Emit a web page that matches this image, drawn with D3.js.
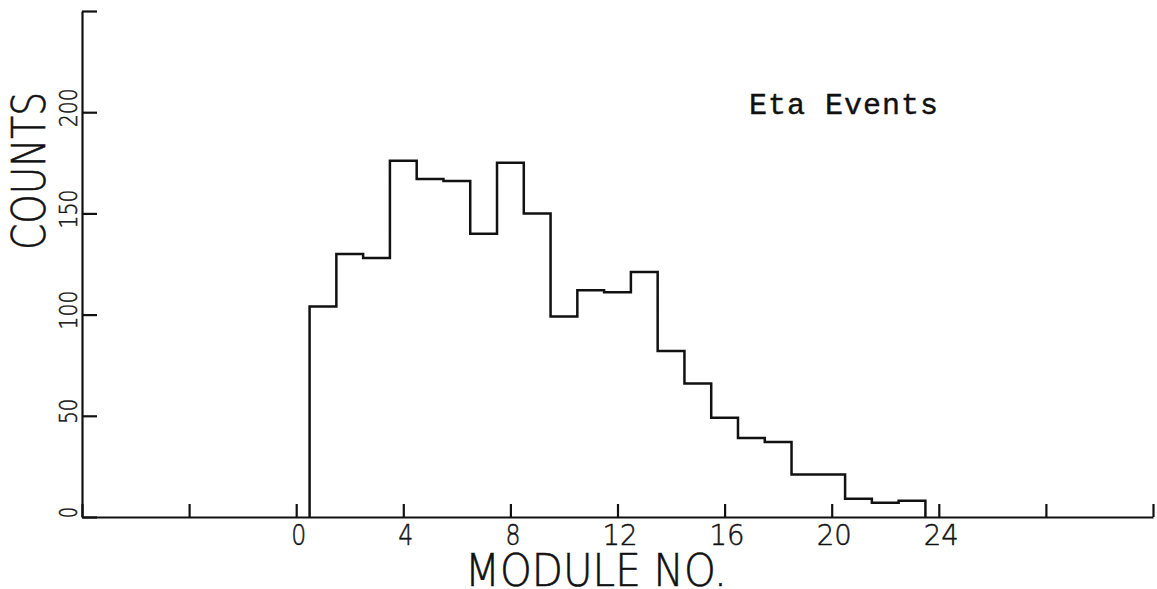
<!DOCTYPE html>
<meta charset="utf-8">
<style>
body {
  margin: 0;
  background: #fff;
}
.plotter {
  font-family: "DejaVu Sans", "Liberation Sans", sans-serif;
  font-weight: 200;
  fill: #111;
  stroke: #111;
  stroke-width: 0.6;
}
.axis path, .axis line {
  stroke: #111;
  stroke-width: 2.2;
}
.hist {
  fill: none;
  stroke: #111;
  stroke-width: 2.5;
}
</style>
<body>
<script src="https://cdn.jsdelivr.net/npm/d3@7"></script>
<script>

var width = 1157,
    height = 589;

// histogram: module number (bin centre) and counts
var modules = [1, 2, 3, 4, 5, 6, 7, 8, 9, 10, 11, 12, 13, 14, 15, 16, 17, 18, 19, 20, 21, 22, 23];
var counts  = [104, 130, 128, 176, 167, 166, 140, 175, 150, 99, 112, 111, 121, 82, 66, 49, 39, 37, 21, 21, 9, 7, 8];

var xTicks = [-8, -4, 0, 4, 8, 12, 16, 20, 24, 28, 32];
var xLabelled = [0, 4, 8, 12, 16, 20, 24];
var yTicks = [0, 50, 100, 150, 200, 250];
var yLabelled = [0, 50, 100, 150, 200];

var x = d3.scaleLinear().domain([-8, 32]).range([82, 1153]);
var y = d3.scaleLinear().domain([0, 250]).range([517, 11]);

var svg = d3.select("body").append("svg")
    .attr("width", width)
    .attr("height", height);

// plotter glyphs sit in fixed cells, so squeeze each label to its cell width
function cellLength(s, w, gap) {
  return s.length * w + (s.length - 1) * gap;
}

// x axis, ticks pointing up
svg.append("g")
    .attr("class", "axis plotter")
    .attr("transform", "translate(0," + y(0) + ")")
    .call(d3.axisBottom(x)
      .tickValues(xTicks)
      .tickSizeInner(-13)
      .tickSizeOuter(0)
      .tickPadding(7)
      .tickFormat(function(d) { return xLabelled.indexOf(d) >= 0 ? d : ""; }))
    .call(function(g) {
      g.selectAll("text")
        .attr("font-size", 29)
        .attr("fill", "#111")
        .attr("dx", 2)
        .filter(function() { return this.textContent.length > 0; })
        .attr("textLength", function() { return cellLength(this.textContent, 15, 5); })
        .attr("lengthAdjust", "spacingAndGlyphs");
    });

// y axis, ticks pointing right, labels rotated
svg.append("g")
    .attr("class", "axis plotter")
    .attr("transform", "translate(" + x(-8) + ",0)")
    .call(d3.axisLeft(y)
      .tickValues(yTicks)
      .tickSizeInner(-15)
      .tickSizeOuter(0)
      .tickFormat(function(d) { return yLabelled.indexOf(d) >= 0 ? d : ""; }))
    .call(function(g) {
      g.selectAll("text")
        .attr("x", null)
        .attr("dy", null)
        .attr("font-size", 24)
        .attr("fill", "#111")
        .attr("text-anchor", "middle")
        .attr("transform", "translate(-5,-5)rotate(-90)")
        .filter(function() { return this.textContent.length > 0; })
        .attr("textLength", function() { return cellLength(this.textContent, 11, 3); })
        .attr("lengthAdjust", "spacingAndGlyphs");
    });

svg.selectAll(".axis").attr("font-family", null).attr("font-size", null);
svg.selectAll(".axis text").style("stroke-width", 0.5);

// histogram outline
var pts = [[modules[0] - 0.5, 0]];
modules.forEach(function(m, i) {
  pts.push([m - 0.5, counts[i]]);
  pts.push([m + 0.5, counts[i]]);
});
pts.push([modules[modules.length - 1] + 0.5, 0]);

var line = d3.line()
    .x(function(d) { return x(d[0]); })
    .y(function(d) { return y(d[1]); });

svg.append("path")
    .attr("class", "hist")
    .attr("d", line(pts));

// titles
svg.append("text")
    .attr("class", "plotter")
    .attr("font-size", 47)
    .attr("text-anchor", "middle")
    .attr("textLength", 158)
    .attr("lengthAdjust", "spacingAndGlyphs")
    .attr("transform", "translate(45,171)rotate(-90)")
    .text("COUNTS");

svg.append("text")
    .attr("class", "plotter")
    .attr("font-size", 45)
    .attr("text-anchor", "middle")
    .attr("textLength", 262)
    .attr("lengthAdjust", "spacingAndGlyphs")
    .attr("x", 596)
    .attr("y", 586)
    .text("MODULE NO.");

svg.append("text")
    .attr("font-family", "'Liberation Mono', 'DejaVu Sans Mono', monospace")
    .attr("font-size", 30)
    .attr("letter-spacing", 1)
    .attr("fill", "#111")
    .attr("stroke", "#111")
    .attr("stroke-width", 0.4)
    .attr("x", 749)
    .attr("y", 114)
    .text("Eta Events");

</script>
